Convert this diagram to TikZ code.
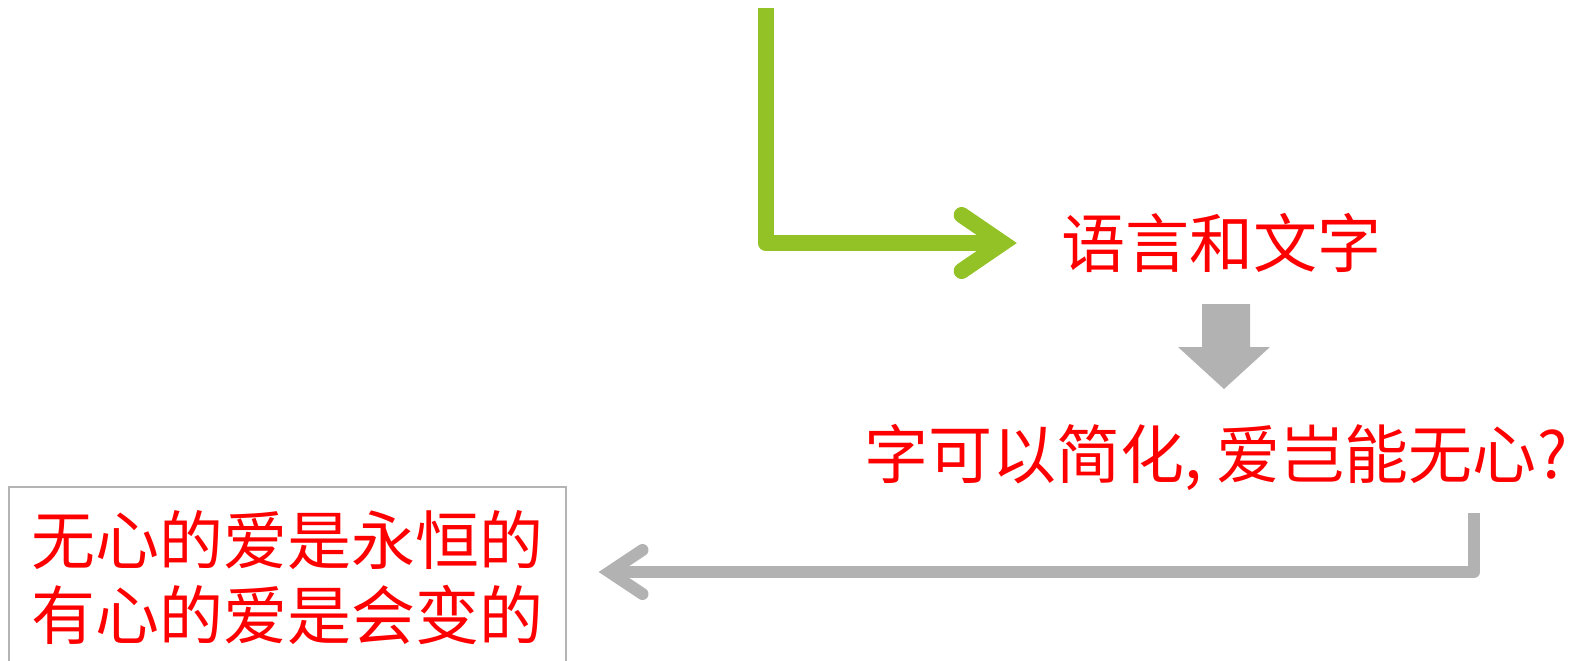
\documentclass[tikz,border=0pt]{standalone}
\usepackage{fontspec}
\newfontfamily\cjk{Noto Sans CJK SC}
\usetikzlibrary{arrows.meta}
\definecolor{lgreen}{RGB}{146,194,38}
\definecolor{lgray}{RGB}{178,178,178}
\definecolor{bgray}{RGB}{180,180,180}
\definecolor{tred}{RGB}{255,0,0}
\tikzset{
  redtext/.style={text=tred, inner sep=0pt, font=\cjk\fontsize{64}{75}\selectfont},
  greenline/.style={draw=lgreen, line width=16pt, line join=round,
    -{Straight Barb[length=41pt, width=56pt, line cap=round, line join=miter]}},
  grayline/.style={draw=lgray, line width=12pt, line join=round,
    -{Straight Barb[length=33pt, width=44pt, line cap=round, line join=miter]}},
  framebox/.style={draw=bgray, line width=1.3pt, minimum width=557pt, minimum height=182pt, align=center}
}
\begin{document}
\begin{tikzpicture}[x=1pt,y=-1pt]
\useasboundingbox (0,0) rectangle (1590,661);
\clip (0,0) rectangle (1590,661);
\fill[white] (0,0) rectangle (1590,661);
% nodes
\node[redtext] (t1) at (1221,243) {语言和文字};
\node[redtext, anchor=west] (t2) at (864,457) {字可以简化, 爱岂能无心\kern1pt?};
\node[redtext, framebox] (box) at (287.5,578) {无心的爱是永恒的\\有心的爱是会变的};
% connectors
\coordinate (gs) at (765.5,8);
\draw[greenline, shorten >=44pt] (gs) |- (t1.west);
\coordinate (g2s) at (1474,513);
\draw[grayline, shorten >=32pt] (g2s) |- ([yshift=6pt]box.east);
% block arrow
\fill[lgray] (1202,304) -- (1250,304) -- (1250,347) -- (1270,347) -- (1224,389) -- (1178,347) -- (1202,347) -- cycle;
\end{tikzpicture}
\end{document}
